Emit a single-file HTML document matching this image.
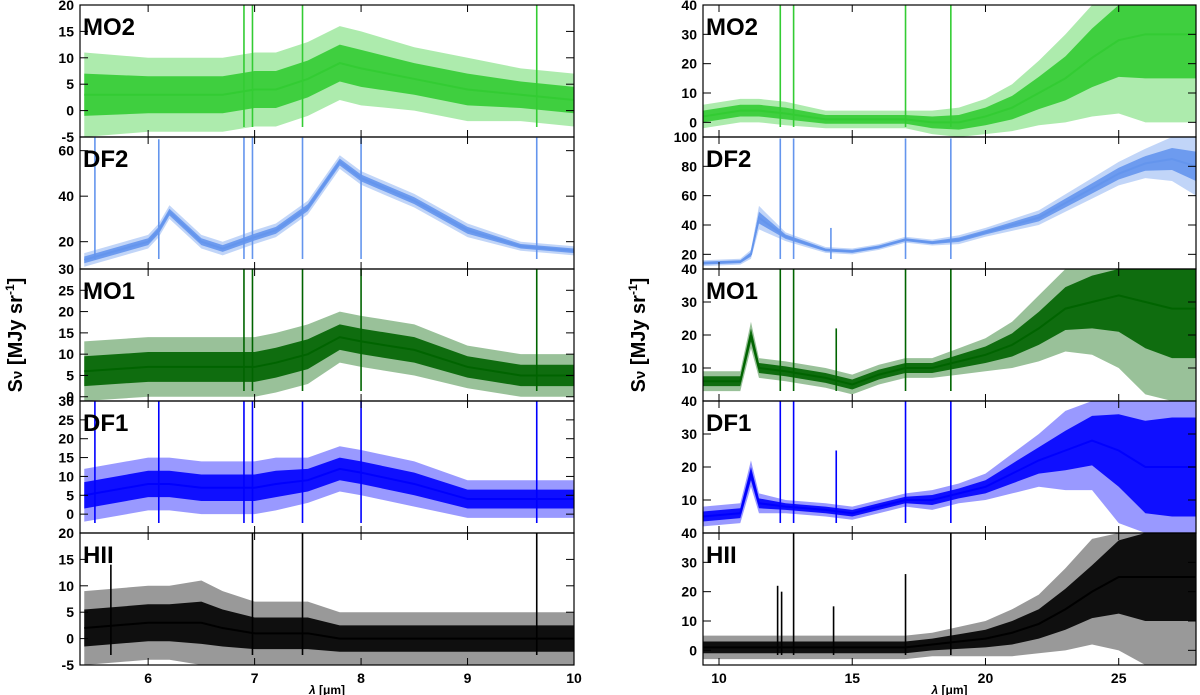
<!DOCTYPE html>
<html><head><meta charset="utf-8"><style>
body{margin:0;background:#fff;}
svg{display:block;font-family:"Liberation Sans",sans-serif;}
.tk{font-size:14px;font-weight:bold;fill:#000;}
.pn{font-size:24px;font-weight:bold;fill:#000;}
</style></head><body>
<svg id="c" width="1200" height="695"></svg>
<script>
// ---- data ----
const leftLam = [5.4,6.0,6.1,6.2,6.5,6.7,7.0,7.2,7.5,7.8,8.0,8.5,9.0,9.5,10.0];
const leftMO2c = [3,3,3,3,3,3,4,4,6,9,8,6,4,3,2];
const leftMO2a = [8,7,7,7,7,7,7,7,7,7,7,6,6,5,5];
const leftDF2c = [12,20,25,33,20,17,22,25,35,55,48,38,25,18,16];
const leftDF2a = [3,3,3,3,3,3,3,3,3,3,3,3,3,2,2];
const leftMO1c = [6,7,7,7,7,7,7,8,10,14,13,11,7,5,5];
const leftMO1a = [7,7,7,7,7,7,7,7,7,6,6,6,5,5,5];
const leftDF1c = [5,8,8,8,7,7,7,8,9,12,11,8,4,4,4];
const leftDF1a = [7,7,7,7,7,7,7,7,6,6,6,6,5,5,5];
const leftHIIc = [2,3,3,3,3,2,1,1,1,0,0,0,0,0,0];
const leftHIIa = [7,7,7,7,8,7,6,6,6,5,5,5,5,5,5];
const rightLam = [9.4,10.8,11.2,11.5,12.5,14,15,16,17,18,19,20,21,22,23,24,25,26,27,27.9];
const rightMO2c = [2,4,4,4,3,1,1,1,1,0,0,2,5,10,15,22,28,30,30,30];
const rightMO2a = [4,4,4,4,4,3,3,3,3,4,5,6,8,11,15,20,25,30,30,30];
const rightDF2c = [14,15,20,45,32,23,22,25,30,28,30,35,40,45,55,65,75,82,85,80];
const rightDF2a = [2,2,3,8,3,2,2,2,2,2,3,3,4,5,6,7,8,10,15,20];
const rightMO1c = [6,6,20,10,9,7,5,8,10,10,12,14,17,22,28,30,32,30,28,28];
const rightMO1a = [3,3,4,3,3,3,3,3,3,3,4,5,7,10,13,16,22,28,30,30];
const rightDF1c = [5,6,18,9,8,7,6,8,10,10,12,14,18,22,25,28,25,20,20,20];
const rightDF1a = [3,3,4,3,2,2,2,2,2,3,3,4,6,8,12,15,22,28,30,30];
const rightHIIc = [1,1,1,1,1,1,1,1,1,2,3,4,6,9,14,20,25,25,25,25];
const rightHIIa = [4,4,4,4,4,4,4,4,4,4,5,6,8,10,14,18,25,30,30,30];
const leftSpikes = {MO2:[[6.9,99],[6.98,99],[7.45,99],[9.65,99]],
 DF2:[[5.5,99],[6.1,65],[6.9,99],[6.98,99],[7.45,99],[8.0,99],[9.65,99]],
 MO1:[[6.9,99],[6.98,99],[7.45,99],[8.0,99],[9.65,99]],
 DF1:[[5.5,99],[6.1,99],[6.9,99],[6.98,99],[7.45,99],[8.0,99],[9.65,99]],
 HII:[[5.65,14],[6.98,99],[7.45,99],[9.65,99]]};
const rightSpikes = {MO2:[[12.3,99],[12.8,99],[17.0,99],[18.7,99]],
 DF2:[[12.3,99],[12.8,99],[14.2,38],[17.0,99],[18.7,99]],
 MO1:[[12.3,99],[12.8,99],[14.4,22],[17.0,99],[18.7,99]],
 DF1:[[12.3,99],[12.8,99],[14.4,25],[17.0,99],[18.7,99]],
 HII:[[12.2,22],[12.35,20],[12.8,99],[14.3,15],[17.0,26],[18.7,99]]};
const leftTicksX=[6,7,8,9,10], rightTicksX=[10,15,20,25];
const names=['MO2','DF2','MO1','DF1','HII'];
const colors=['#33cc33','#6495ed','#006400','#0000ff','#000000'];
const leftRanges=[[-5,20],[8,66],[-1,30],[-5,30],[-5,20]];
const rightRanges=[[-5,40],[10,100],[0,40],[0,40],[-5,40]];
const leftYTicks=[[-5,0,5,10,15,20],[20,40,60],[0,5,10,15,20,25,30],[0,5,10,15,20,25,30],[-5,0,5,10,15,20]];
const rightYTicks=[[0,10,20,30,40],[20,40,60,80,100],[10,20,30,40],[10,20,30,40],[0,10,20,30,40]];
const leftC=[leftMO2c,leftDF2c,leftMO1c,leftDF1c,leftHIIc], leftA=[leftMO2a,leftDF2a,leftMO1a,leftDF1a,leftHIIa];
const rightC=[rightMO2c,rightDF2c,rightMO1c,rightDF1c,rightHIIc], rightA=[rightMO2a,rightDF2a,rightMO1a,rightDF1a,rightHIIa];
// ---- drawing ----
const NS='http://www.w3.org/2000/svg', svg=document.getElementById('c');
function mk(t,a,p){const e=document.createElementNS(NS,t);for(const k in a)e.setAttribute(k,a[k]);(p||svg).appendChild(e);return e;}
const tops=[5,137,269,401,533], PH=132;
function side(key,x0,x1,lam0,lam1,lam,C,A,ranges,yt,xt,spikes){
  const sx=v=>x0+(v-lam0)/(lam1-lam0)*(x1-x0);
  for(let p=0;p<5;p++){
    const g=mk('g',{});
    
    
    const [y0,y1]=ranges[p], top=tops[p], bot=top+PH;
    const sy=v=>Math.max(top,Math.min(bot,bot-(v-y0)/(y1-y0)*PH));
    const col=colors[p];
    [[1,0.4],[0.5,0.9]].forEach(([f,op])=>{
      let up=[],lo=[];
      for(let i=0;i<lam.length;i++){up.push(sx(lam[i])+','+sy(C[p][i]+A[p][i]*f));lo.unshift(sx(lam[i])+','+sy(C[p][i]-A[p][i]*f));}
      const band=mk('polygon',{points:up.concat(lo).join(' '),fill:col,'fill-opacity':op},g);
      
      
    });
    const line=mk('polyline',{points:lam.map((l,i)=>sx(l)+','+sy(C[p][i])).join(' '),fill:'none',stroke:col,'stroke-width':2},g);
    
    
    spikes[names[p]].forEach(s=>{
      const l=mk('line',{x1:sx(s[0]),x2:sx(s[0]),y1:bot-10,y2:sy(s[1]),stroke:col,'stroke-width':1.6},g);
      
      
    });
    const fr=mk('rect',{x:x0,y:top,width:x1-x0,height:PH,fill:'none',stroke:'#000','stroke-width':1.2},g);
    
    
    yt[p].forEach(v=>{
      const yy=bot-(v-y0)/(y1-y0)*PH;
      mk('line',{x1:x0,x2:x0+8,y1:yy,y2:yy,stroke:'#000'},g);
      mk('line',{x1:x1,x2:x1-8,y1:yy,y2:yy,stroke:'#000'},g);
      const t=mk('text',{x:x0-6,y:yy+5,'text-anchor':'end',class:'tk'},g);t.textContent=v;
      
      
    });
    xt.forEach(v=>{mk('line',{x1:sx(v),x2:sx(v),y1:bot,y2:bot-7,stroke:'#000'},g);mk('line',{x1:sx(v),x2:sx(v),y1:top,y2:top+7,stroke:'#000'},g);});
    const n=mk('text',{x:x0+3,y:top+30,class:'pn'},g);n.textContent=names[p];
    
    
  }
  xt.forEach(v=>{const t=mk('text',{x:sx(v),y:683,'text-anchor':'middle',class:'tk'});t.textContent=v;
    
    });
  const xl=mk('text',{x:(x0+x1)/2,y:694,'text-anchor':'middle','font-size':12,'font-weight':'bold'});
  xl.innerHTML='<tspan font-style="italic">λ</tspan> [μm]';
  
  
}
side('left',80,574,5.36,10,leftLam,leftC,leftA,leftRanges,leftYTicks,leftTicksX,leftSpikes);
side('right',703,1196,9.4,27.9,rightLam,rightC,rightA,rightRanges,rightYTicks,rightTicksX,rightSpikes);
[[22,'left'],[645,'right']].forEach(([x,k])=>{
  const t=mk('text',{x:x,y:335,transform:'rotate(-90 '+x+' 335)','text-anchor':'middle','font-size':20,'font-weight':'bold'});
  t.innerHTML='S<tspan font-size="15">ν</tspan> [MJy sr<tspan font-size="12" dy="-8">-1</tspan><tspan dy="8">]</tspan>';
  
  
});
</script>
</body></html>
